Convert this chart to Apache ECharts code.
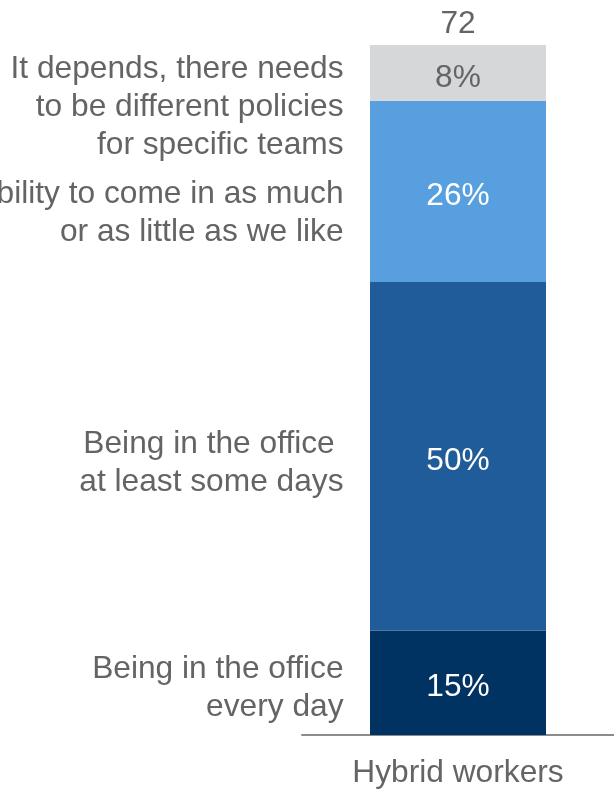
<!DOCTYPE html>
<html>
<head>
<meta charset="utf-8">
<script src="https://cdn.jsdelivr.net/npm/echarts@6/dist/echarts.min.js"></script>
<style>
  html, body { margin: 0; padding: 0; background: #ffffff; }
  #chart { width: 614px; height: 789px; }
</style>
</head>
<body>
<div id="chart"></div>
<script>
// One stacked column: answers of hybrid workers (n = 72), bottom to top
const categories = ['Hybrid workers'];
const sampleSize = ['72'];
const answers = [
  'Being in the office\nevery day',
  'Being in the office \nat least some days',
  'Flexibility to come in as much\nor as little as we like',
  'It depends, there needs\nto be different policies\nfor specific teams'
];
const shares = [15, 50, 26, 8];

const segmentColors = ['#003262', '#1F5C99', '#589FDF', '#D6D7D9'];
const insideTextColors = ['#ffffff', '#ffffff', '#ffffff', '#646464'];
// vertical nudge of the side captions so the stacked ones do not collide
const captionShift = [6, 7, 22, 34];

const FONT = '"Liberation Sans", Arial, sans-serif';
const GREY = '#646464';
const SIZE = 31.7;

const total = shares.reduce((a, b) => a + b, 0);

// one bar series per answer, stacked
const barSeries = shares.map((v, i) => ({
  name: answers[i],
  type: 'bar',
  stack: 'all',
  barWidth: 176,
  data: [v],
  itemStyle: { color: segmentColors[i] },
  label: {
    show: true,
    position: 'inside',
    formatter: '{c}%',
    offset: [0, 5],
    color: insideTextColors[i],
    fontFamily: FONT,
    fontSize: SIZE
  },
  silent: true,
  z: 2
}));

// captions to the left of each segment, anchored at the segment midpoints
let running = 0;
const captionPoints = shares.map((v, i) => {
  const mid = running + v / 2;
  running += v;
  return {
    value: [0, mid],
    label: { formatter: answers[i], offset: [0, captionShift[i]] }
  };
});

const option = {
  animation: false,
  backgroundColor: '#ffffff',
  grid: { left: 302, width: 316, top: 45, bottom: 52, containLabel: false },
  xAxis: [
    {
      type: 'category',
      data: categories,
      position: 'bottom',
      axisLine: { show: true, lineStyle: { color: '#8C8C8C', width: 2 } },
      axisTick: { show: false },
      axisLabel: { color: GREY, fontFamily: FONT, fontSize: SIZE, margin: 22 }
    },
    {
      type: 'category',
      data: sampleSize,
      position: 'top',
      axisLine: { show: false },
      axisTick: { show: false },
      axisLabel: { color: GREY, fontFamily: FONT, fontSize: SIZE, margin: 5 }
    }
  ],
  yAxis: {
    type: 'value',
    min: 0,
    max: total,
    show: false,
    splitLine: { show: false }
  },
  series: barSeries.concat([{
    type: 'scatter',
    data: captionPoints,
    symbolSize: 1,
    itemStyle: { color: 'rgba(0,0,0,0)', opacity: 1 },
    silent: true,
    label: {
      show: true,
      position: 'left',
      distance: 114,
      align: 'right',
      verticalAlign: 'middle',
      color: GREY,
      fontFamily: FONT,
      fontSize: SIZE,
      lineHeight: 38
    },
    z: 3
  }])
};

const chart = echarts.init(document.getElementById('chart'), null, { renderer: 'canvas' });
chart.setOption(option);
</script>
</body>
</html>
